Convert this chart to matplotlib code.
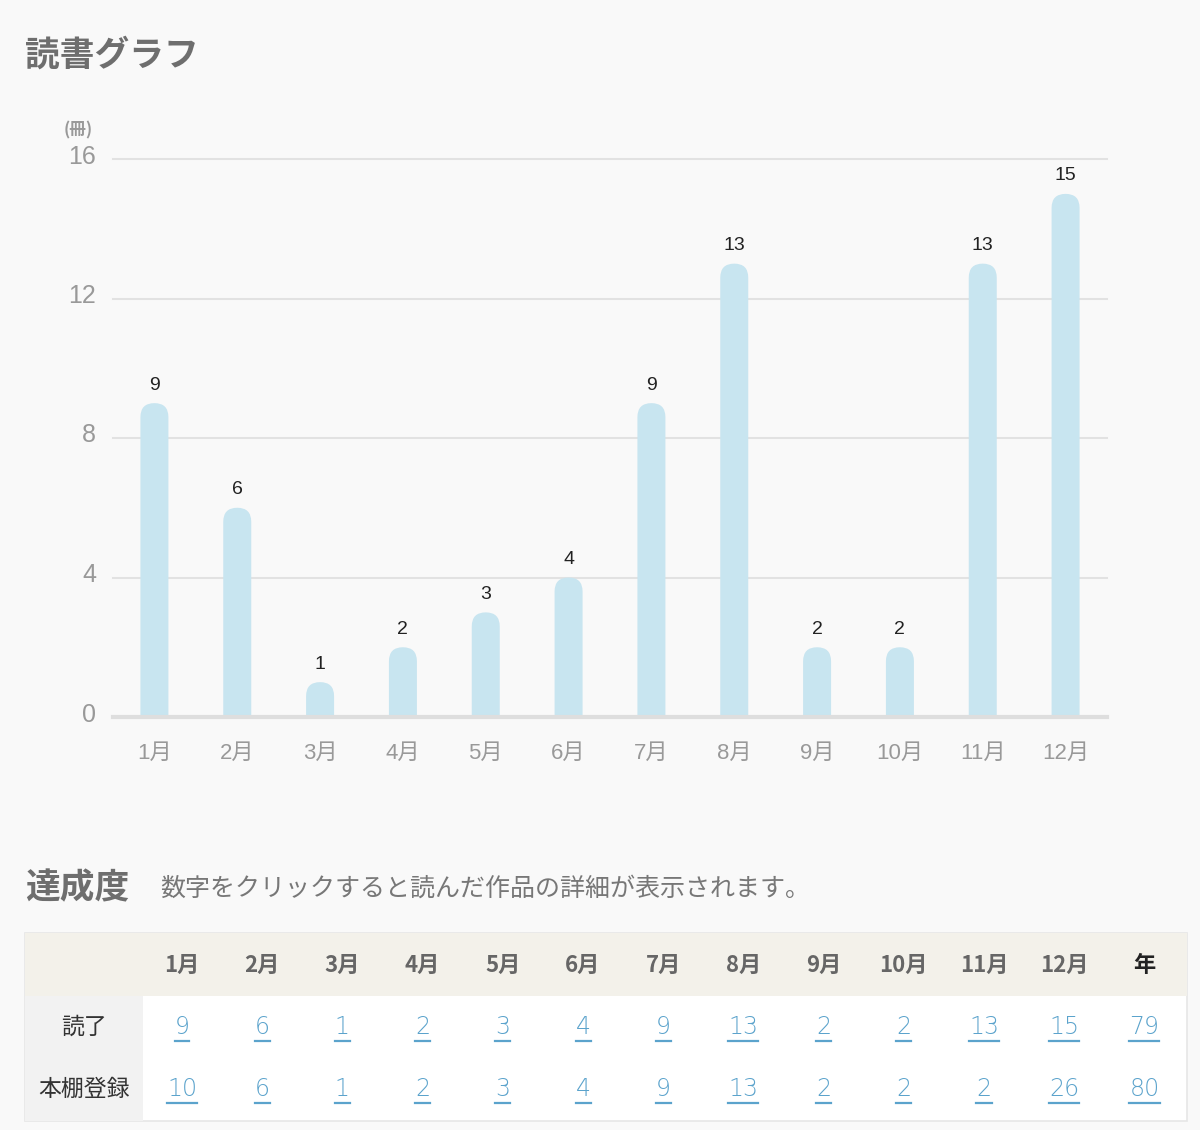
import matplotlib
matplotlib.use("Agg")
import matplotlib.pyplot as plt
from matplotlib.patches import FancyBboxPatch, Rectangle
from matplotlib.lines import Line2D
import matplotlib.transforms as mtransforms

plt.rcParams['font.family'] = ['Noto Sans CJK JP', 'DejaVu Sans']
NUM_FONT = ['Liberation Sans', 'Noto Sans CJK JP']

# ---- data ----
months = ['1月', '2月', '3月', '4月', '5月', '6月', '7月', '8月', '9月', '10月', '11月', '12月']
read_counts = [9, 6, 1, 2, 3, 4, 9, 13, 2, 2, 13, 15]
shelf_counts = [10, 6, 1, 2, 3, 4, 9, 13, 2, 2, 2, 26]
y_ticks = [0, 4, 8, 12, 16]
row_labels = ['読了', '本棚登録']
year_label = '年'
title = '読書グラフ'
unit_label = '(冊)'
section_title = '達成度'
section_note = '数字をクリックすると読んだ作品の詳細が表示されます。'

W, H = 1200, 1130
BG = '#f9f9f9'
fig = plt.figure(figsize=(W / 100, H / 100), dpi=100, facecolor=BG)


def fx(px):
    return px / W


def fy(py):
    return 1 - py / H


# ---- titles ----
fig.text(fx(25), fy(55), title, fontsize=25, fontweight='bold', color='#6e6e6e', va='center', ha='left')
fig.text(fx(78), fy(130), unit_label, fontsize=12, color='#999999', va='center', ha='center', fontweight='bold')

# ---- chart ----
ax_left, ax_right, ax_bottom, ax_top = 113, 1107, 717, 159
ax = fig.add_axes([fx(ax_left), fy(ax_bottom), fx(ax_right - ax_left), (ax_bottom - ax_top) / H])
ax.set_facecolor(BG)
ax.set_xlim(-0.5, len(months) - 0.5)
ax.set_ylim(0, 16)
for s in ax.spines.values():
    s.set_visible(False)

for t in y_ticks[1:]:
    ax.axhline(t, color='#e2e2e2', lw=1.5, clip_on=False, zorder=0)
ax.axhline(0, color='#dedede', lw=3, clip_on=False, zorder=3)

px_per_x = (ax_right - ax_left) / len(months)
px_per_y = (ax_bottom - ax_top) / 16
bar_w = 28 / px_per_x
aspect = px_per_x / px_per_y
for i, v in enumerate(read_counts):
    p = FancyBboxPatch((i - bar_w / 2, -1), bar_w, v + 1,
                       boxstyle=f"round,pad=0,rounding_size={bar_w / 2}",
                       mutation_aspect=aspect, facecolor='#c8e5f0', edgecolor='none', zorder=2)
    ax.add_patch(p)
    ax.annotate(str(v), (i, v), xytext=(0, 13), textcoords='offset points',
                ha='center', va='center', fontsize=14, color='#222222', family=NUM_FONT)

ax.set_xticks(range(len(months)))
ax.set_xticklabels(months, fontsize=16, color='#999999', family=NUM_FONT)
ax.set_yticks(y_ticks)
ax.set_yticklabels([str(t) for t in y_ticks], fontsize=18, color='#999999', family=NUM_FONT)
ax.tick_params(axis='both', length=0)
ax.tick_params(axis='x', pad=19)
ax.tick_params(axis='y', pad=12)
offset = mtransforms.ScaledTranslation(0, 5 / 100, fig.dpi_scale_trans)
for lbl in ax.get_yticklabels():
    lbl.set_transform(lbl.get_transform() + offset)

# ---- section ----
fig.text(fx(25), fy(888), section_title, fontsize=25, fontweight='bold', color='#6e6e6e', va='center', ha='left')
fig.text(fx(160), fy(889), section_note, fontsize=18, color='#777777', va='center', ha='left')

# ---- table ----
tx0, tx1 = 25, 1187
ty0, ty_head, ty1 = 933, 996, 1121
label_col_w = 118
fig.patches.append(Rectangle((fx(tx0), fy(ty1)), fx(tx1 - tx0), (ty1 - ty0) / H,
                             transform=fig.transFigure, facecolor='white', edgecolor='#e6e6e6', lw=1.2, zorder=0))
fig.patches.append(Rectangle((fx(tx0), fy(ty_head)), fx(tx1 - tx0), (ty_head - ty0) / H,
                             transform=fig.transFigure, facecolor='#f3f1ea', edgecolor='none', zorder=1))
fig.patches.append(Rectangle((fx(tx0), fy(ty1)), fx(label_col_w), (ty1 - ty_head) / H,
                             transform=fig.transFigure, facecolor='#f2f2f2', edgecolor='none', zorder=1))

col0 = 182
col_step = 80.2
head_y = 965
row_ys = [1027, 1089]
headers = months + [year_label]
for j, h in enumerate(headers):
    color = '#222222' if h == year_label else '#666666'
    fig.text(fx(col0 + j * col_step), fy(head_y), h, fontsize=16, fontweight='bold', color=color,
             ha='center', va='center', zorder=3)

link_texts = []
for r, (lab, vals) in enumerate(zip(row_labels, [read_counts, shelf_counts])):
    fig.text(fx(84), fy(row_ys[r]), lab, fontsize=16.5, color='#333333', ha='center', va='center', zorder=3)
    for j, v in enumerate(list(vals) + [sum(vals)]):
        t = fig.text(fx(col0 + j * col_step), fy(row_ys[r]), str(v), fontsize=17, color='#5ba3cc',
                     ha='center', va='center', zorder=3, family=['DejaVu Sans'], fontweight='light')
        link_texts.append((t, row_ys[r]))

fig.canvas.draw()
renderer = fig.canvas.get_renderer()
for t, yrow in link_texts:
    bb = t.get_window_extent(renderer)
    uy = fy(yrow + 14)
    fig.add_artist(Line2D([bb.x0 / W, bb.x1 / W], [uy, uy], transform=fig.transFigure,
                          color='#5ba3cc', lw=1.6, zorder=3))

fig.savefig('out.png', dpi=100, facecolor=BG)
